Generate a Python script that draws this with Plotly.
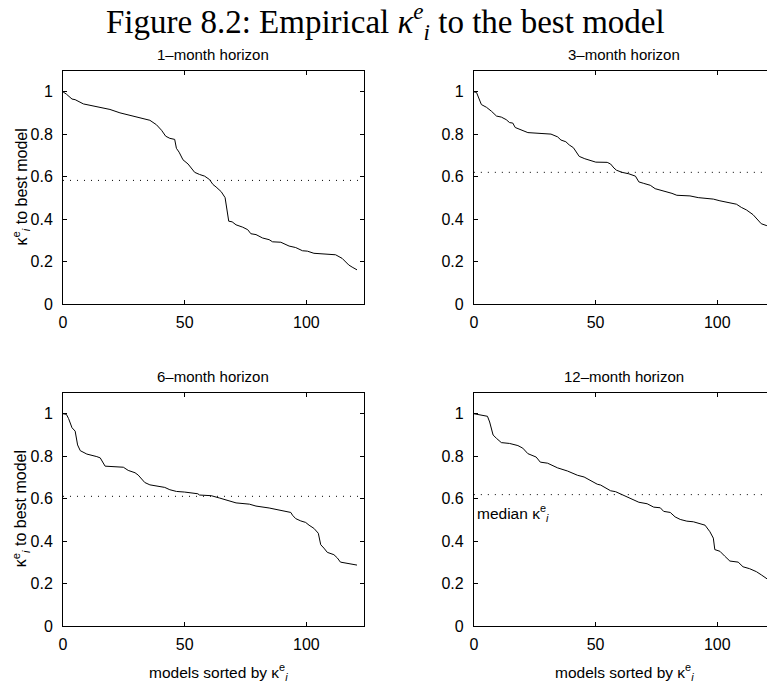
import plotly.graph_objects as go

# ---------------- data ----------------
x_1m = [0, 1.4, 3.7, 5, 8.4, 12.5, 19.3, 23.4, 27.5, 33, 35.7, 38.4, 40.5, 42.2, 43.9, 45.9,
        46.6, 47.7, 49.3, 51.4, 52.7, 54.1, 56.1, 58.2, 60.2, 61.6, 62.9, 65, 66.6, 67.3, 68.1,
        69.5, 71.1, 73.8, 75.9, 77.2, 79.3, 82, 84.7, 86.1, 89.5, 92.9, 95.6, 98.4, 100.4, 103.1,
        108.6, 112, 114.7, 117.4, 118.8, 120.8]
y_1m = [1.0, 0.989, 0.966, 0.963, 0.943, 0.932, 0.917, 0.901, 0.889, 0.876, 0.866, 0.845, 0.819,
        0.791, 0.781, 0.776, 0.734, 0.716, 0.680, 0.660, 0.641, 0.621, 0.611, 0.603, 0.587, 0.564,
        0.552, 0.530, 0.502, 0.440, 0.391, 0.388, 0.374, 0.363, 0.351, 0.332, 0.328, 0.312, 0.304,
        0.294, 0.292, 0.274, 0.267, 0.252, 0.250, 0.240, 0.236, 0.233, 0.216, 0.185, 0.175, 0.162]

x_3m = [0, 1.1, 3.1, 5.2, 7.2, 9.3, 11.3, 13.3, 14.7, 16, 17, 19.5, 22.2, 27.6, 31.7, 34.4, 35.8,
        37.8, 39.2, 40.9, 41.9, 43.3, 45.6, 48, 50.1, 54.8, 56.2, 57.6, 58.6, 60.9, 63.7, 66.4,
        67.8, 69.8, 72.5, 74.5, 78.6, 81.4, 83.4, 88.8, 92.2, 98.4, 101.1, 104.5, 107.9, 109.9,
        112, 114.7, 116.7, 118.1, 120.1, 121]
y_3m = [1.0, 0.997, 0.940, 0.927, 0.909, 0.886, 0.881, 0.869, 0.855, 0.853, 0.832, 0.819, 0.808,
        0.804, 0.801, 0.788, 0.773, 0.765, 0.750, 0.737, 0.722, 0.696, 0.685, 0.677, 0.669, 0.668,
        0.660, 0.641, 0.631, 0.621, 0.614, 0.603, 0.576, 0.569, 0.560, 0.544, 0.533, 0.522, 0.513,
        0.510, 0.502, 0.495, 0.487, 0.479, 0.471, 0.456, 0.444, 0.422, 0.394, 0.379, 0.371, 0.368]

x_6m = [0, 1.4, 2.3, 3.7, 5.0, 6.0, 7.1, 9.8, 13.9, 15.3, 17.3, 20.7, 24.8, 26.8, 29.6, 30.9, 32.3,
        33.6, 35.7, 38.4, 41.8, 43.9, 46.6, 50, 52.7, 55.4, 56.1, 60.9, 64.3, 67.7, 71.1, 76.6,
        79.3, 84.7, 88.8, 93.6, 94.3, 95.6, 97.7, 99.7, 101.1, 103.1, 104.9, 105.9, 107.2, 108.6,
        111.3, 112.7, 114, 116.1, 118.8, 120.8]
y_6m = [1.0, 0.997, 0.977, 0.934, 0.918, 0.853, 0.826, 0.810, 0.798, 0.792, 0.753, 0.750, 0.748,
        0.733, 0.722, 0.711, 0.691, 0.676, 0.665, 0.660, 0.653, 0.642, 0.634, 0.631, 0.627, 0.623,
        0.617, 0.614, 0.603, 0.591, 0.580, 0.574, 0.565, 0.556, 0.545, 0.535, 0.522, 0.506, 0.495,
        0.488, 0.475, 0.460, 0.437, 0.383, 0.367, 0.347, 0.336, 0.321, 0.301, 0.296, 0.293, 0.287]

x_12m = [0, 3.1, 5.6, 6.5, 7.9, 9.3, 11.3, 14.7, 18.1, 20.1, 22.2, 25.6, 27.3, 30.3, 34.4, 38.5,
         42.6, 45.3, 48, 50.7, 52.1, 56.2, 58.2, 60.3, 63, 65, 67.8, 71.2, 73.9, 76.6, 78, 80.7,
         82.7, 84.8, 87.5, 90.2, 92.9, 95, 97, 98.4, 99, 101.1, 103.1, 105.2, 108.6, 110.6, 113.3,
         116.1, 118.1, 120.1, 121]
y_12m = [1.0, 0.995, 0.988, 0.961, 0.900, 0.884, 0.864, 0.860, 0.850, 0.838, 0.812, 0.796, 0.772,
         0.767, 0.745, 0.730, 0.710, 0.702, 0.684, 0.668, 0.664, 0.637, 0.633, 0.622, 0.606, 0.594,
         0.583, 0.576, 0.560, 0.557, 0.540, 0.535, 0.514, 0.502, 0.494, 0.491, 0.483, 0.475, 0.444,
         0.414, 0.360, 0.352, 0.329, 0.306, 0.301, 0.279, 0.270, 0.256, 0.241, 0.225, 0.218]

medians = [0.583, 0.621, 0.611, 0.619]
panel_titles = ["1–month horizon", "3–month horizon", "6–month horizon", "12–month horizon"]
x_tick_vals = [0, 50, 100]
x_tick_text = ["0", "50", "100"]
y_tick_vals = [0, 0.2, 0.4, 0.6, 0.8, 1]
y_tick_text = ["0", "0.2", "0.4", "0.6", "0.8", "1"]

series_x = [x_1m, x_3m, x_6m, x_12m]
series_y = [y_1m, y_3m, y_6m, y_12m]

# ---------------- layout geometry (pixels) ----------------
W, H = 767, 689
SANS = "Liberation Sans, Arial, Helvetica, sans-serif"
SERIF = "Liberation Serif, Times New Roman, serif"

# (left, right, top, bottom) in px, x-range max, draw right border
geo = [
    (59.3, 361.7, 71.5, 308.3, 123.6, True),
    (472.3, 767.0, 71.5, 308.3, 120.45, False),
    (59.3, 361.7, 397.7, 634.3, 123.6, True),
    (472.3, 767.0, 397.7, 634.3, 120.45, False),
]

fig = go.Figure()
layout = dict(
    width=W, height=H,
    margin=dict(l=0, r=0, t=0, b=0),
    paper_bgcolor="white", plot_bgcolor="white",
    showlegend=False,
    font=dict(family=SANS, color="black"),
)

shapes = []
annotations = []

for i in range(4):
    L, R, T, B, xmax, right_border = geo[i]
    n = "" if i == 0 else str(i + 1)
    xa, ya = "x" + n, "y" + n
    fig.add_trace(go.Scatter(
        x=series_x[i], y=series_y[i], mode="lines",
        line=dict(color="black", width=1),
        xaxis=xa, yaxis=ya, hoverinfo="skip",
    ))
    layout["xaxis" + n] = dict(
        domain=[L / W, min(R / W, 1.0)], range=[0, xmax], anchor=ya,
        showgrid=False, zeroline=False, showline=True, linecolor="black", linewidth=1,
        mirror="ticks", ticks="inside", ticklen=4, tickcolor="black", tickwidth=1,
        tickvals=x_tick_vals, ticktext=x_tick_text, ticklabelstandoff=4,
        tickfont=dict(family=SANS, size=16, color="black"),
        fixedrange=True,
    )
    layout["yaxis" + n] = dict(
        domain=[1 - B / H, 1 - T / H], range=[0, 1.1], anchor=xa,
        showgrid=False, zeroline=False, showline=True, linecolor="black", linewidth=1,
        mirror="ticks" if right_border else False, ticks="inside", ticklen=4,
        tickcolor="black", tickwidth=1, ticklabelstandoff=6,
        tickvals=y_tick_vals, ticktext=y_tick_text,
        tickfont=dict(family=SANS, size=16, color="black"),
        fixedrange=True,
    )
    shapes.append(dict(
        type="line", xref=xa + " domain", yref=ya, x0=0, x1=1,
        y0=medians[i], y1=medians[i],
        line=dict(color="black", width=1, dash="1px,6px"),
    ))
    # panel title
    annotations.append(dict(
        text=panel_titles[i], xref="paper", yref="paper",
        x=((L + (L + 302.4)) / 2) / W, y=1 - (T - 16) / H,
        xanchor="center", yanchor="middle", showarrow=False,
        font=dict(family=SANS, size=15, color="black"),
    ))

# y-axis titles (left column)
for yc in [189.0, 515.0]:
    annotations.append(dict(
        text="κ<sup>e</sup><sub><i>i</i></sub> to best model",
        xref="paper", yref="paper", x=17 / W, y=1 - yc / H,
        xanchor="center", yanchor="middle", textangle=-90, showarrow=False,
        font=dict(family=SANS, size=16, color="black"),
    ))

# x-axis titles (bottom row)
for xc in [216.0, 624.0]:
    annotations.append(dict(
        text="models sorted by κ<sup>e</sup><sub><i>i</i></sub>",
        xref="paper", yref="paper", x=xc / W, y=1 - 681 / H,
        xanchor="center", yanchor="middle", showarrow=False,
        font=dict(family=SANS, size=15.5, color="black"),
    ))

# median label in 12-month panel
annotations.append(dict(
    text="median κ<sup>e</sup><sub><i>i</i></sub>",
    xref="x4", yref="y4", x=0.6, y=0.532,
    xanchor="left", yanchor="middle", showarrow=False,
    font=dict(family=SANS, size=15.5, color="black"),
))

# figure title
annotations.append(dict(
    text="Figure 8.2: Empirical <i>κ</i><sup><i>e</i></sup><sub><i>i</i></sub> to the best model",
    xref="paper", yref="paper", x=383.5 / W, y=1 - 22 / H,
    xanchor="center", yanchor="middle", showarrow=False,
    font=dict(family=SERIF, size=33, color="black"),
))

layout["shapes"] = shapes
layout["annotations"] = annotations
fig.update_layout(**layout)

fig.write_html("out.html", config={"displayModeBar": False})
